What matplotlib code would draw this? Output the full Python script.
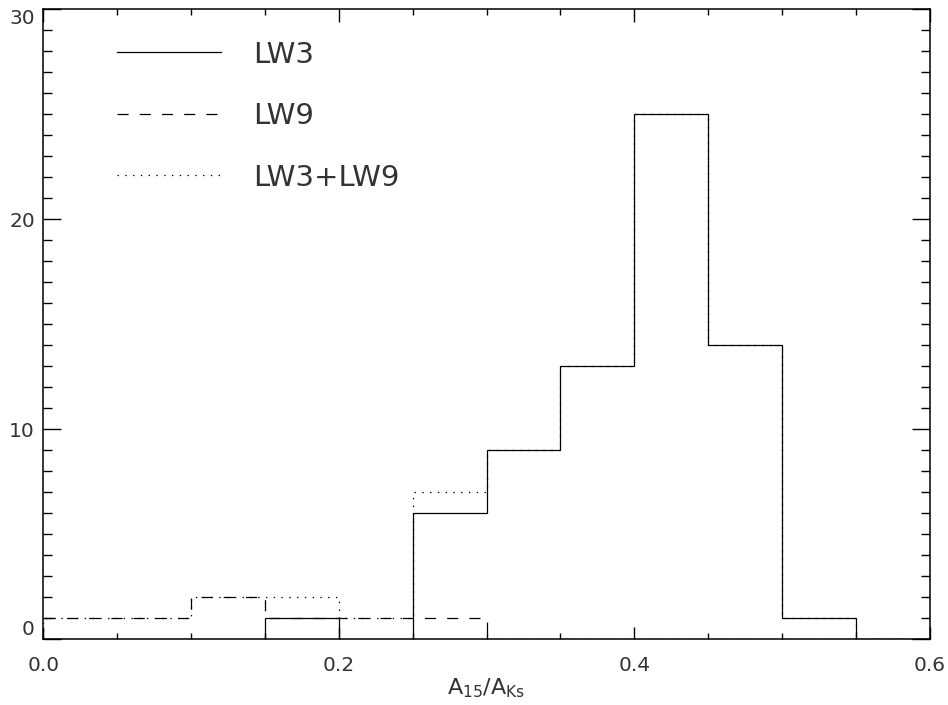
import matplotlib
matplotlib.use("Agg")
import matplotlib.pyplot as plt
import numpy as np
from matplotlib.ticker import MultipleLocator

bin_edges = [0.0, 0.05, 0.10, 0.15, 0.20, 0.25, 0.30, 0.35, 0.40, 0.45, 0.50, 0.55, 0.60]
lw3_counts = [0, 0, 0, 1, 0, 6, 9, 13, 25, 14, 1, 0]
lw9_counts = [1, 1, 2, 1, 1, 1, 0, 0, 0, 0, 0, 0]
sum_counts = [1, 1, 2, 2, 1, 7, 9, 13, 25, 14, 1, 0]
series_labels = ["LW3", "LW9", "LW3+LW9"]
x_ticks = [0.0, 0.2, 0.4, 0.6]
y_ticks = [0, 10, 20, 30]

plt.rcParams['lines.scale_dashes'] = False
plt.rcParams['font.family'] = ['DejaVu Sans']
txt = '#333333'

fig = plt.figure(figsize=(9.48, 7.05), dpi=100)
ax = fig.add_axes([0.0457, 0.0932, 0.9807 - 0.0457, 0.9868 - 0.0932])

lw = 0.9
ax.stairs(lw3_counts, bin_edges, color='black', lw=lw, linestyle='-',
          label=series_labels[0], baseline=0)
ax.stairs(lw9_counts, bin_edges, color='black', lw=lw, linestyle=(0, (8, 8)),
          label=series_labels[1], baseline=0)
ax.stairs(sum_counts, bin_edges, color='black', lw=lw, linestyle=(0, (1, 4.6)),
          label=series_labels[2], baseline=0)

ax.set_xlim(0, 0.6)
ax.set_ylim(0, 30)
ax.set_xticks(x_ticks)
ax.set_xticklabels([f"{v:.1f}" for v in x_ticks])
ax.set_yticks(y_ticks)
ax.set_yticklabels([str(v) for v in y_ticks])
ax.xaxis.set_minor_locator(MultipleLocator(0.05))
ax.yaxis.set_minor_locator(MultipleLocator(1))

ax.tick_params(axis='x', which='major', direction='in', length=9, width=1.0,
               top=True, bottom=True, labelsize=14.5, pad=12, labelcolor=txt)
ax.tick_params(axis='x', which='minor', direction='in', length=4.6, width=1.0,
               top=True, bottom=True)
ax.tick_params(axis='y', which='major', direction='in', length=13, width=1.0,
               left=True, right=True, labelsize=14.5, pad=6, labelcolor=txt)
ax.tick_params(axis='y', which='minor', direction='in', length=6.6, width=1.0,
               left=True, right=True)

ylabs = ax.get_yticklabels()
ylabs[0].set_va('bottom')
ylabs[-1].set_va('top')

for s in ax.spines.values():
    s.set_linewidth(1.1)

ax.set_xlabel(r'A$_{\rm 15}$/A$_{\rm Ks}$', fontsize=16, color=txt, labelpad=1)

leg = ax.legend(loc='upper left', bbox_to_anchor=(0.0704, 0.969), frameon=False,
                fontsize=21, handlelength=3.55, handletextpad=1.1,
                labelspacing=1.15, borderaxespad=0)
for t in leg.get_texts():
    t.set_color(txt)

fig.savefig('out.png', dpi=100)
